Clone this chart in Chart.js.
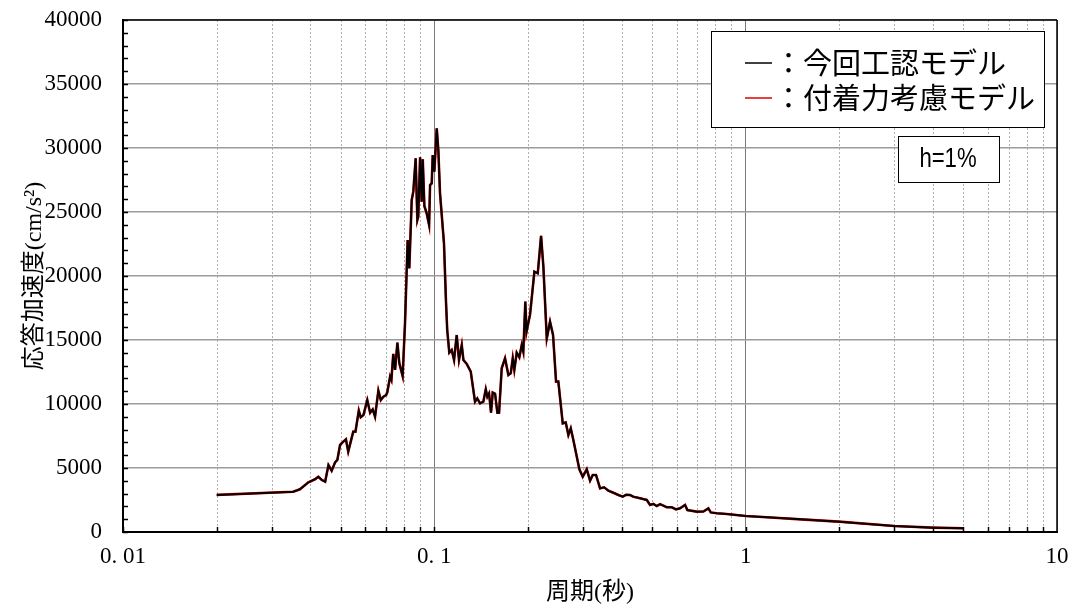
<!DOCTYPE html>
<html lang="ja">
<head>
<meta charset="utf-8">
<script src="https://cdn.jsdelivr.net/npm/chart.js@4.4.1/dist/chart.umd.min.js"></script>
<style>
  html, body { margin: 0; padding: 0; background: #fff; }
  #wrap { width: 1075px; height: 612px; }
</style>
</head>
<body>
<div id="wrap"><canvas id="spectrumChart" width="1075" height="612"></canvas></div>
<script>
// period (s) and response acceleration (cm/s2)
const periods = [
  0.020, 0.0352, 0.0370, 0.0394, 0.0414, 0.0424, 0.0435, 0.0446, 0.0457, 0.0468,
  0.0480, 0.0488, 0.0498, 0.0510, 0.0520, 0.0529, 0.0549, 0.0558, 0.0572, 0.0580,
  0.0592, 0.0609, 0.0622, 0.0634, 0.0645, 0.0661, 0.0673, 0.0686, 0.0700, 0.0706,
  0.0721, 0.0728, 0.0738, 0.0748, 0.0761, 0.0772, 0.0791, 0.0805, 0.0821, 0.0831,
  0.0846, 0.0856, 0.0871, 0.0882, 0.0888, 0.0900, 0.0911, 0.0918, 0.0929, 0.0945,
  0.0962, 0.0969, 0.0981, 0.0988, 0.1000, 0.1018, 0.1030, 0.1043, 0.1074, 0.1090,
  0.1100, 0.1117, 0.1137, 0.1157, 0.1180, 0.1200, 0.1225, 0.1240, 0.1271, 0.1309,
  0.1351, 0.1374, 0.1402, 0.1437, 0.1463, 0.1480, 0.1499, 0.1521, 0.1540, 0.1567,
  0.1594, 0.1614, 0.1646, 0.1687, 0.1729, 0.1760, 0.1786, 0.1807, 0.1839, 0.1875,
  0.1909, 0.1931, 0.1960, 0.1978, 0.2030, 0.2096, 0.2149, 0.2202, 0.2240, 0.2297,
  0.2353, 0.2406, 0.2460, 0.2502, 0.2585, 0.2643, 0.2695, 0.2743, 0.2796, 0.2867,
  0.2923, 0.2997, 0.3087, 0.3164, 0.3227, 0.3307, 0.3407, 0.3509, 0.3622, 0.3758,
  0.3900, 0.4029, 0.4129, 0.4253, 0.4358, 0.4579, 0.4812, 0.4931, 0.5052, 0.5181,
  0.5309, 0.5580, 0.5789, 0.5976, 0.6156, 0.6387, 0.6497, 0.6966, 0.7313, 0.7589,
  0.7725, 0.8076, 0.8698, 1.0, 1.17, 1.50, 2.0, 3.0, 4.0, 5.0
];

// 今回工認モデル
const accelKonkai = [
  2900, 3150, 3340, 3880, 4120, 4320, 4060, 3930, 5230, 4790,
  5440, 5630, 6800, 7060, 7240, 6280, 7840, 7840, 9480, 8960,
  9140, 10310, 9320, 9580, 9010, 11040, 10310, 10570, 10700, 10910,
  12140, 11880, 13910, 12660, 14790, 13180, 12190, 16300, 22810, 20600,
  25940, 26590, 29200, 24380, 24640, 29270, 25810, 29120, 25470, 24900,
  23980, 27110, 27240, 29450, 28150, 31540, 29840, 26460, 22550, 18000,
  15780, 14010, 14220, 13440, 15390, 13440, 14610, 13440, 13130, 12530,
  10180, 10440, 10050, 10180, 11150, 10570, 10830, 9320, 10890, 10800,
  9320, 9320, 12790, 13570, 12270, 12400, 13570, 12660, 14010, 13650,
  14610, 14090, 18000, 15650, 17000, 20340, 20210, 23130, 20730, 15130,
  16430, 15390, 11750, 11750, 8490, 8560, 7580, 8100, 7190, 5890,
  4900, 4320, 4900, 4010, 4450, 4450, 3410, 3490, 3230, 3070,
  2890, 2760, 2900, 2890, 2760, 2630, 2500, 2110, 2200, 2030,
  2180, 1930, 1930, 1770, 1850, 2110, 1720, 1590, 1600, 1850,
  1530, 1460, 1410, 1250, 1150, 990, 810, 470, 340, 290
];

// 付着力考慮モデル (lies on top of the other curve everywhere)
const accelFuchaku = accelKonkai.slice();

const xTickValues = [0.01, 0.1, 1, 10];
const xTickLabels = ["0. 01", "0. 1", "1", "10"];
const yMax = 40000;
const yStep = 5000;
const legendLabels = ["：今回工認モデル", "：付着力考慮モデル"];
const legendColors = ["#000000", "#e00000"];
const dampingLabel = "h=1%";

const serif = "'Liberation Serif', 'Noto Sans CJK JP', serif";
const gothic = "'Noto Sans CJK JP', sans-serif";

function toPoints(xs, ys) {
  return xs.map((x, i) => ({ x: x, y: ys[i] }));
}

function strokeLine(ctx, x1, y1, x2, y2) {
  ctx.beginPath();
  ctx.moveTo(x1, y1);
  ctx.lineTo(x2, y2);
  ctx.stroke();
}

const minorGrid = {
  id: "minorGrid",
  beforeDatasetsDraw(chart) {
    const { ctx, chartArea, scales } = chart;
    ctx.save();
    ctx.strokeStyle = "#b0b0b0";
    ctx.lineWidth = 1;
    ctx.setLineDash([2, 2]);
    for (let e = -2; e < 1; e++) {
      for (let m = 2; m <= 9; m++) {
        const px = Math.round(scales.x.getPixelForValue(m * Math.pow(10, e))) + 0.5;
        strokeLine(ctx, px, chartArea.top, px, chartArea.bottom);
      }
    }
    ctx.restore();
  }
};

const frameAndNotes = {
  id: "frameAndNotes",
  afterDatasetsDraw(chart) {
    const { ctx, chartArea, scales } = chart;
    const { left, right, top, bottom } = chartArea;
    ctx.save();

    // frame
    ctx.strokeStyle = "#000";
    ctx.lineWidth = 1.5;
    strokeLine(ctx, left, top, right, top);
    strokeLine(ctx, right, top, right, bottom);

    // inner tick marks
    for (let v = 0; v <= yMax; v += 1000) {
      const py = Math.round(scales.y.getPixelForValue(v)) + 0.5;
      strokeLine(ctx, left, py, left + 5, py);
    }
    for (let e = -2; e < 1; e++) {
      for (let m = 1; m <= 9; m++) {
        const px = Math.round(scales.x.getPixelForValue(m * Math.pow(10, e))) + 0.5;
        strokeLine(ctx, px, bottom, px, bottom - 5);
      }
    }

    // legend box
    ctx.fillStyle = "#fff";
    ctx.fillRect(711, 31, 333, 96);
    ctx.lineWidth = 1;
    ctx.strokeRect(711.5, 31.5, 333, 96);
    ctx.font = "29px " + gothic;
    ctx.textBaseline = "middle";
    ctx.textAlign = "left";
    const rowY = [63, 98];
    legendLabels.forEach((label, i) => {
      ctx.strokeStyle = legendColors[i];
      ctx.lineWidth = 1.5;
      strokeLine(ctx, 745, rowY[i], 772, rowY[i]);
      ctx.fillStyle = "#000";
      ctx.fillText(label, 774, rowY[i]);
    });

    // damping box
    ctx.fillStyle = "#fff";
    ctx.fillRect(898, 136, 101, 46);
    ctx.strokeStyle = "#000";
    ctx.lineWidth = 1;
    ctx.strokeRect(898.5, 136.5, 101, 46);
    ctx.fillStyle = "#000";
    ctx.font = "27px 'Liberation Sans', sans-serif";
    ctx.textAlign = "center";
    ctx.translate(948, 160);
    ctx.scale(0.82, 1);
    ctx.fillText(dampingLabel, 0, 0);

    ctx.restore();
  }
};

new Chart(document.getElementById("spectrumChart"), {
  type: "line",
  data: {
    datasets: [
      {
        label: legendLabels[0],
        data: toPoints(periods, accelKonkai),
        borderColor: legendColors[0],
        borderWidth: 2,
        pointRadius: 0,
        tension: 0,
        fill: false
      },
      {
        label: legendLabels[1],
        data: toPoints(periods, accelFuchaku),
        borderColor: legendColors[1],
        borderWidth: 2.6,
        pointRadius: 0,
        tension: 0,
        fill: false
      }
    ]
  },
  options: {
    responsive: false,
    animation: false,
    events: [],
    layout: { padding: { top: 20, right: 18, left: 0, bottom: 0 } },
    plugins: {
      legend: { display: false },
      tooltip: { enabled: false }
    },
    scales: {
      x: {
        type: "logarithmic",
        min: 0.01,
        max: 10,
        afterBuildTicks: (scale) => {
          scale.ticks = xTickValues.map((v) => ({ value: v }));
        },
        afterFit: (scale) => {
          scale.height = 80;
          scale.paddingLeft = 0;
          scale.paddingRight = 0;
        },
        grid: { color: "#7a7a7a", lineWidth: 1, drawTicks: false },
        border: { color: "#000", width: 2 },
        ticks: {
          autoSkip: false,
          maxRotation: 0,
          padding: 11,
          color: "#000",
          font: { family: serif, size: 23 },
          callback: (value, index) => xTickLabels[index]
        },
        title: {
          display: true,
          text: "周期(秒)",
          color: "#000",
          font: { family: serif, size: 24 },
          padding: { top: 0, bottom: 5 }
        }
      },
      y: {
        min: 0,
        max: yMax,
        afterFit: (scale) => {
          scale.width = 123;
          scale.paddingTop = 0;
          scale.paddingBottom = 0;
        },
        grid: { color: "#9c9c9c", lineWidth: 1.5, drawTicks: false },
        border: { color: "#000", width: 2 },
        ticks: {
          stepSize: yStep,
          padding: 21,
          color: "#000",
          font: { family: serif, size: 23 },
          callback: (value) => String(value)
        },
        title: {
          display: true,
          text: "応答加速度(cm/s²)",
          color: "#000",
          font: { family: serif, size: 24 },
          padding: { top: 20, bottom: 0 }
        }
      }
    }
  },
  plugins: [minorGrid, frameAndNotes]
});
</script>
</body>
</html>
